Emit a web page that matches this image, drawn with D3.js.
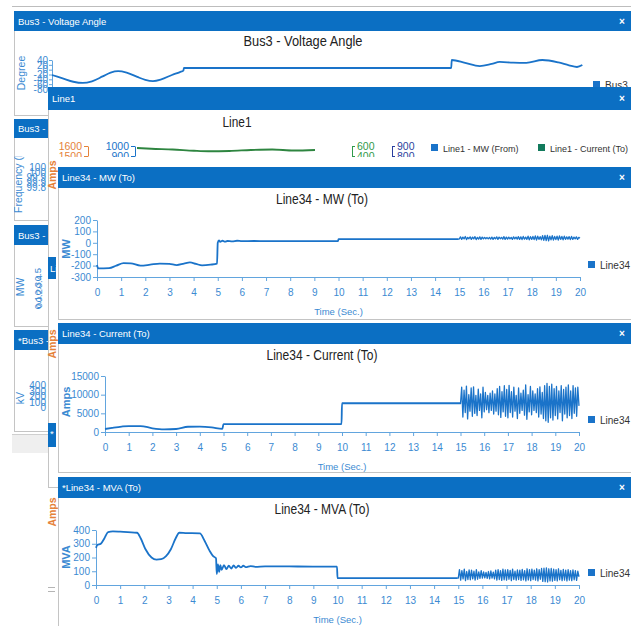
<!DOCTYPE html>
<html>
<head>
<meta charset="utf-8">
<script src="https://cdn.jsdelivr.net/npm/d3@7"></script>
<style>
  body { margin: 0; background: #fff; }
</style>
</head>
<body>
<div id="chart"></div>
<script>
// ============================================
// Dashboard of trend windows — Bus3 / Line1 / Line34
// ============================================

// ---- data ----
const timeTicks = [0, 1, 2, 3, 4, 5, 6, 7, 8, 9, 10, 11, 12, 13, 14, 15, 16, 17, 18, 19, 20];

// shared time grid for the noisy 15..20 s section
const burstT = [15.00, 15.05, 15.10, 15.15, 15.20, 15.25, 15.30, 15.35, 15.40, 15.45,
                15.50, 15.55, 15.60, 15.65, 15.70, 15.75, 15.80, 15.85, 15.90, 15.95,
                16.00, 16.05, 16.10, 16.15, 16.20, 16.25, 16.30, 16.35, 16.40, 16.45,
                16.50, 16.55, 16.60, 16.65, 16.70, 16.75, 16.80, 16.85, 16.90, 16.95,
                17.00, 17.05, 17.10, 17.15, 17.20, 17.25, 17.30, 17.35, 17.40, 17.45,
                17.50, 17.55, 17.60, 17.65, 17.70, 17.75, 17.80, 17.85, 17.90, 17.95,
                18.00, 18.05, 18.10, 18.15, 18.20, 18.25, 18.30, 18.35, 18.40, 18.45,
                18.50, 18.55, 18.60, 18.65, 18.70, 18.75, 18.80, 18.85, 18.90, 18.95,
                19.00, 19.05, 19.10, 19.15, 19.20, 19.25, 19.30, 19.35, 19.40, 19.45,
                19.50, 19.55, 19.60, 19.65, 19.70, 19.75, 19.80, 19.85, 19.90, 19.95,
                20.00];

// Bus3 - Voltage Angle (deg)
const angleT = [0, 0.4, 0.8, 1.16, 1.5, 1.9, 2.2, 2.48, 2.8, 3.2, 3.5, 3.79, 4.1, 4.5, 4.8, 4.93, 4.95,
                14.98, 15.0, 15.5, 16.05, 16.5, 16.8, 17.3, 17.8, 18.4, 19.0, 19.4, 19.7, 19.9];
const angleV = [-22, -36, -50, -55, -48, -28, -12, -6, -12, -30, -42, -47, -40, -22, -10, -4, 7,
                7, 40, 28, 15, 24, 32, 29, 28, 40, 30, 18, 11, 19];
const degTicks = [40, 20, 0, -20, -40, -60, -80];

// Line1 - Current (To), visible part only
const line1T = [0, 0.4, 1.0, 1.6, 2.0, 2.6, 3.2, 3.8, 4.4, 5.0];
const line1A = [560, 545, 530, 505, 495, 500, 520, 530, 510, 520];

// Line34 - MW (To)
const mwBaseT = [0, 0.05, 0.5, 0.8, 1.1, 1.4, 1.8, 2.2, 2.6, 3.0, 3.3, 3.6, 3.85, 4.1, 4.35, 4.7, 4.97,
                 5.0, 5.05, 5.1, 5.2, 5.3, 5.4, 5.6, 5.8, 6.0, 6.5, 7, 8, 9, 9.98, 10.0, 14.98];
const mwBaseV = [-195, -225, -222, -200, -178, -180, -200, -192, -182, -185, -195, -182, -172, -185, -198, -192, -182,
                 0, 20, 8, 18, 10, 16, 12, 18, 14, 16, 15, 15, 15, 15, 33, 33];
const mwBurstV = [33, 52, 30, 50, 34, 55, 28, 48, 36, 52,
                  30, 50, 34, 54, 28, 48, 32, 52, 30, 50,
                  34, 48, 36, 46, 34, 48, 32, 50, 30, 48,
                  34, 52, 30, 50, 36, 48, 32, 54, 30, 50,
                  32, 50, 34, 48, 30, 52, 34, 50, 32, 54,
                  30, 52, 28, 56, 32, 50, 30, 58, 26, 54,
                  30, 56, 28, 60, 24, 58, 30, 54, 26, 62,
                  22, 64, 20, 66, 18, 58, 26, 62, 24, 56,
                  28, 58, 24, 60, 30, 56, 26, 58, 30, 52,
                  32, 54, 28, 56, 30, 50, 34, 52, 30, 48,
                  40];
const mwTicks = [200, 100, 0, -100, -200, -300];

// Line34 - Current (To), Amps
const curBaseT = [0, 0.3, 0.7, 1.0, 1.5, 2.0, 2.5, 3.0, 3.5, 4.0, 4.5, 4.95, 5.0, 9.98, 10.0, 14.98];
const curBaseV = [800, 1100, 1450, 1600, 1600, 1000, 720, 800, 1400, 1450, 1250, 850, 2100, 2100, 7700, 7700];
const curBurstV = [7600, 12000, 4000, 11200, 5200, 12300, 3500, 10000, 5600, 11800,
                   4200, 12100, 5000, 9800, 4400, 11500, 5800, 10200, 3800, 12000,
                   5400, 10600, 6000, 9800, 5200, 10400, 5800, 11000, 4800, 10200,
                   5600, 11600, 4600, 12200, 3900, 10800, 5400, 12400, 4200, 11400,
                   3800, 12500, 5200, 10800, 4000, 12000, 5600, 9800, 3600, 11800,
                   5000, 10400, 5800, 11200, 4500, 12600, 3400, 10000, 5400, 12200,
                   4600, 11000, 5800, 10200, 5200, 11600, 4000, 12100, 4800, 10600,
                   3600, 12400, 3000, 13000, 2600, 12200, 3800, 12800, 3200, 11600,
                   4400, 12200, 3500, 11000, 5200, 12400, 3000, 11400, 4800, 12000,
                   3800, 12600, 4400, 11000, 3600, 12400, 5000, 11800, 4200, 12000,
                   7000];
const ampTicks = [0, 5000, 10000, 15000];

// Line34 - MVA (To)
const mvaBaseT = [0, 0.05, 0.2, 0.35, 0.5, 0.7, 1.0, 1.7, 1.85, 2.05, 2.3, 2.5, 2.7, 2.9, 3.1, 3.3, 3.45, 3.7,
                  4.3, 4.5, 4.7, 4.85, 4.97, 5.0, 5.05, 5.1, 5.15, 5.2, 5.3, 5.4, 5.5, 5.6, 5.7, 5.8, 5.9,
                  6.0, 6.1, 6.2, 6.4, 6.6, 7, 8, 9, 9.98, 10.0, 14.98];
const mvaBaseV = [270, 290, 300, 340, 385, 390, 388, 380, 340, 260, 200, 185, 188, 210, 260, 340, 380, 378,
                  375, 320, 250, 210, 195, 80, 150, 95, 145, 110, 145, 115, 140, 120, 142, 125, 140,
                  128, 140, 130, 138, 132, 136, 135, 134, 134, 50, 50];
const mvaBurstV = [50, 112, 35, 105, 45, 115, 32, 98, 40, 110,
                   38, 108, 45, 100, 36, 112, 42, 96, 48, 104,
                   50, 95, 52, 92, 48, 98, 45, 102, 50, 94,
                   44, 108, 36, 112, 40, 104, 34, 115, 38, 110,
                   35, 112, 42, 106, 32, 115, 40, 100, 36, 110,
                   40, 108, 34, 114, 38, 104, 30, 118, 36, 112,
                   32, 115, 40, 108, 35, 118, 30, 112, 42, 120,
                   26, 122, 24, 125, 22, 118, 30, 120, 28, 115,
                   34, 112, 30, 118, 38, 106, 32, 114, 36, 108,
                   30, 112, 36, 105, 32, 110, 38, 104, 34, 100,
                   60];
const mvaTicks = [0, 100, 200, 300, 400];

// partly hidden windows on the left
const freqTicks = ['100', '100', '99.9', '99.9', '99.8'];
const busMwTicks = ['0.5', '0.4', '0.3', '0.2', '0.1', '0'];
const kvTicks = [400, 300, 200, 100, 0];

// ---- look ----
const FONT = '"Liberation Sans", Arial, sans-serif';
const HDR = '#0b6fc3';
const LINE = '#1a73c9';
const AXIS = '#62a5de';
const TXT = '#3b8ad2';
const ORANGE = '#e5823a';
const BORDER = '#c4c4c4';
const fmt = d => String(d);

const W = 631, H = 626;
const svg = d3.select('#chart').append('svg')
    .attr('width', W).attr('height', H)
    .attr('font-family', FONT);

const defs = svg.append('defs');

function clip(id, x, y, w, h) {
    defs.append('clipPath').attr('id', id)
        .append('rect').attr('x', x).attr('y', y).attr('width', w).attr('height', h);
    return `url(#${id})`;
}

// window with blue title bar
function frame(x, y, w, h, hdrH, label, close) {
    const g = svg.append('g');
    g.append('rect')
        .attr('x', x + 0.5).attr('y', y + 0.5)
        .attr('width', w).attr('height', h)
        .attr('fill', '#fff').attr('stroke', BORDER);
    g.append('rect')
        .attr('x', x).attr('y', y)
        .attr('width', w + 1).attr('height', hdrH)
        .attr('fill', HDR);
    g.append('text')
        .attr('x', x + 4).attr('y', y + hdrH / 2 + 3.5)
        .attr('fill', '#fff').attr('font-size', 9.5)
        .text(label);
    if (close) {
        g.append('text')
            .attr('x', 622).attr('y', y + hdrH / 2 + 3.5)
            .attr('text-anchor', 'middle')
            .attr('fill', '#fff').attr('font-size', 10).attr('font-weight', 'bold')
            .text('×');
    }
    return g;
}

// chart title, squeezed to the narrow face of the original
function title(g, x, y, text, width) {
    g.append('text')
        .attr('x', x).attr('y', y).attr('text-anchor', 'middle')
        .attr('fill', '#222').attr('font-size', 14)
        .attr('textLength', width).attr('lengthAdjust', 'spacingAndGlyphs')
        .text(text);
}

function styleAxis(a, lineColor, textColor, fs) {
    a.attr('font-family', FONT).attr('font-size', fs).attr('color', lineColor);
    a.selectAll('.tick text').attr('fill', textColor);
    return a;
}

function series(g, xs, ys, T, V, color, width, curve) {
    g.append('path')
        .datum(T.map((t, i) => [t, V[i]]))
        .attr('fill', 'none')
        .attr('stroke', color)
        .attr('stroke-width', width)
        .attr('stroke-linejoin', 'round')
        .attr('d', d3.line().x(d => xs(d[0])).y(d => ys(d[1])).curve(curve || d3.curveMonotoneX));
}

function rotLabel(g, x, y, text, color, fs, weight, anchor) {
    g.append('text')
        .attr('transform', `translate(${x},${y}) rotate(-90)`)
        .attr('text-anchor', anchor || 'middle')
        .attr('fill', color).attr('font-size', fs)
        .attr('font-weight', weight || 'normal')
        .text(text);
}

function legend(g, x, y, color, label, fs) {
    g.append('rect').attr('x', x).attr('y', y).attr('width', 7).attr('height', 7).attr('fill', color);
    g.append('text').attr('x', x + 12).attr('y', y + 7.5)
        .attr('fill', '#333').attr('font-size', fs || 10).text(label);
}

// ---- background chrome ----
svg.append('line')
    .attr('x1', 12).attr('x2', W).attr('y1', 6.5).attr('y2', 6.5)
    .attr('stroke', '#bdbdbd');

// ---- left column of windows (mostly hidden) ----
const freqWin = frame(14, 119, 400, 101, 19, 'Bus3 - Frequency (Hz)', false);
const freqBody = freqWin.append('g').attr('clip-path', clip('c-freq', 14, 156, 40, 64));
rotLabel(freqBody, 22, 213, 'Frequency (Hz)', TXT, 10.5, 'normal', 'start');
freqTicks.forEach((t, i) => {
    freqBody.append('text')
        .attr('x', 46).attr('y', 171 + i * 5)
        .attr('text-anchor', 'end').attr('fill', TXT).attr('font-size', 10)
        .text(t);
});

const busMwWin = frame(14, 225, 400, 101, 20, 'Bus3 - MW', false);
rotLabel(busMwWin, 24, 287, 'MW', TXT, 10.5);
busMwTicks.forEach((t, i) => {
    busMwWin.append('text')
        .attr('transform', `translate(${41 + (i % 2) * 1},${268 + i * 7}) rotate(-90)`)
        .attr('text-anchor', 'end').attr('fill', TXT).attr('font-size', 9.5)
        .text(t);
});

const kvWin = frame(14, 330, 400, 101, 20, '*Bus3 - kV', false);
rotLabel(kvWin, 24, 398, 'kV', TXT, 10.5);
kvTicks.forEach((t, i) => {
    kvWin.append('text')
        .attr('x', 46).attr('y', 389 + i * 5.5)
        .attr('text-anchor', 'end').attr('fill', TXT).attr('font-size', 10)
        .text(t);
});

svg.append('rect').attr('x', 12).attr('y', 434).attr('width', 36).attr('height', 19)
    .attr('fill', '#efefef');
svg.append('line').attr('x1', 12).attr('x2', 48).attr('y1', 434.5).attr('y2', 434.5)
    .attr('stroke', '#cfcfcf');

// ---- Bus3 - Voltage Angle ----
const angWin = frame(14, 11, 640, 104, 20, 'Bus3 - Voltage Angle', true);
title(angWin, 303, 46, 'Bus3 - Voltage Angle', 119);
{
    const x = d3.scaleLinear().domain([0, 20]).range([52, 585]);
    const y = d3.scaleLinear().domain([-80, 40]).range([89, 60]);
    styleAxis(angWin.append('g').attr('transform', 'translate(52,0)')
        .call(d3.axisLeft(y).tickValues(degTicks).tickFormat(fmt).tickSize(3).tickPadding(1).tickSizeOuter(0)),
        AXIS, TXT, 10);
    rotLabel(angWin, 25, 73, 'Degree', TXT, 10.5);
    series(angWin, x, y, angleT, angleV, LINE, 1.8);
    legend(angWin, 593, 81, LINE, 'Bus3');
}

// ---- Line1 ----
const l1Win = frame(48, 87, 640, 400, 23, 'Line1', true);
title(l1Win, 237, 127, 'Line1', 29);
rotLabel(l1Win, 56, 175, 'Amps', ORANGE, 10.5, 'bold');
{
    const body = l1Win.append('g').attr('clip-path', clip('c-l1', 49, 110, 600, 47));
    const yOr = d3.scaleLinear().domain([1500, 1600]).range([156, 146]);
    const yBl = d3.scaleLinear().domain([900, 1000]).range([156, 146]);
    const yGr = d3.scaleLinear().domain([400, 600]).range([156, 146]);
    const yNv = d3.scaleLinear().domain([800, 900]).range([156, 146]);
    const x = d3.scaleLinear().domain([0, 5]).range([137, 315]);

    styleAxis(body.append('g').attr('transform', 'translate(88,0)')
        .call(d3.axisLeft(yOr).tickValues([1600, 1500]).tickFormat(fmt).tickSize(4).tickPadding(2).tickSizeOuter(0)),
        ORANGE, ORANGE, 10.5);
    styleAxis(body.append('g').attr('transform', 'translate(135,0)')
        .call(d3.axisLeft(yBl).tickValues([1000, 900]).tickFormat(fmt).tickSize(4).tickPadding(2).tickSizeOuter(0)),
        LINE, LINE, 10.5);
    styleAxis(body.append('g').attr('transform', 'translate(352,0)')
        .call(d3.axisRight(yGr).tickValues([600, 400]).tickFormat(fmt).tickSize(3).tickPadding(2).tickSizeOuter(0)),
        '#2f9a4a', '#2f9a4a', 10.5);
    styleAxis(body.append('g').attr('transform', 'translate(392,0)')
        .call(d3.axisRight(yNv).tickValues([900, 800]).tickFormat(fmt).tickSize(3).tickPadding(2).tickSizeOuter(0)),
        '#2b3f9e', '#2b3f9e', 10.5);

    series(body, x, yGr, line1T, line1A, '#2e8540', 1.8);

    legend(l1Win, 431, 144, LINE, 'Line1 - MW (From)', 9);
    legend(l1Win, 538, 144, '#127a5c', 'Line1 - Current (To)', 9);
}

// tabs and labels of windows stacked behind Line34
svg.append('rect').attr('x', 48).attr('y', 257).attr('width', 8).attr('height', 22).attr('fill', HDR);
svg.append('text').attr('x', 50).attr('y', 272).attr('fill', '#fff').attr('font-size', 9.5)
    .attr('clip-path', clip('c-tab1', 48, 257, 8, 22)).text('Li');
svg.append('rect').attr('x', 48).attr('y', 423).attr('width', 8).attr('height', 24).attr('fill', HDR);
svg.append('text').attr('x', 50).attr('y', 437).attr('fill', '#fff').attr('font-size', 9.5).text('*');
rotLabel(svg, 56, 344, 'Amps', ORANGE, 10.5, 'bold');
rotLabel(svg, 56, 512, 'Amps', ORANGE, 10.5, 'bold');
svg.append('line').attr('x1', 48).attr('x2', 55).attr('y1', 587.5).attr('y2', 587.5).attr('stroke', '#b5b5b5');
svg.append('line').attr('x1', 48).attr('x2', 55).attr('y1', 591.5).attr('y2', 591.5).attr('stroke', '#b5b5b5');

// ---- Line34 windows ----
function line34Window(o) {
    const g = frame(58, o.top, 640, o.h, 21, o.header, true);
    title(g, 322, o.titleY, o.title, o.titleW);

    const x = d3.scaleLinear().domain([0, 20]).range(o.xr);
    const y = d3.scaleLinear().domain(o.yd).range(o.yr);

    styleAxis(g.append('g').attr('transform', `translate(${o.xr[0]},0)`)
        .call(d3.axisLeft(y).tickValues(o.yTicks).tickFormat(fmt).tickSize(4).tickPadding(2).tickSizeOuter(0)),
        AXIS, TXT, 10);
    styleAxis(g.append('g').attr('transform', `translate(0,${o.yr[0]})`)
        .call(d3.axisBottom(x).tickValues(timeTicks).tickFormat(fmt).tickSize(4).tickPadding(8).tickSizeOuter(0)),
        AXIS, TXT, 10);

    rotLabel(g, 70, o.yLabelY, o.yLabel, TXT, 11, 'bold');
    g.append('text')
        .attr('x', (o.xr[0] + o.xr[1]) / 2).attr('y', o.yr[0] + 38)
        .attr('text-anchor', 'middle').attr('fill', TXT).attr('font-size', 9.5)
        .text('Time (Sec.)');

    series(g, x, y, o.baseT, o.baseV, LINE, 1.8);
    const n = o.baseT.length - 1;
    series(g, x, y, [o.baseT[n]].concat(burstT), [o.baseV[n]].concat(o.burstV), LINE, 1.3, d3.curveLinear);
    legend(g, 588, o.legendY, LINE, 'Line34');
}

line34Window({
    top: 167, h: 152, header: 'Line34 - MW (To)', title: 'Line34 - MW (To)', titleY: 204, titleW: 92,
    xr: [97, 580], yd: [-300, 200], yr: [277, 220], yTicks: mwTicks,
    yLabel: 'MW', yLabelY: 249, legendY: 261,
    baseT: mwBaseT, baseV: mwBaseV, burstV: mwBurstV
});

line34Window({
    top: 323, h: 149, header: 'Line34 - Current (To)', title: 'Line34 - Current (To)', titleY: 360, titleW: 111,
    xr: [105, 579], yd: [0, 15000], yr: [432, 376], yTicks: ampTicks,
    yLabel: 'Amps', yLabelY: 402, legendY: 416,
    baseT: curBaseT, baseV: curBaseV, burstV: curBurstV
});

line34Window({
    top: 477, h: 160, header: '*Line34 - MVA (To)', title: 'Line34 - MVA (To)', titleY: 514, titleW: 95,
    xr: [96, 579], yd: [0, 400], yr: [585, 530], yTicks: mvaTicks,
    yLabel: 'MVA', yLabelY: 557, legendY: 569,
    baseT: mvaBaseT, baseV: mvaBaseV, burstV: mvaBurstV
});
</script>
</body>
</html>
